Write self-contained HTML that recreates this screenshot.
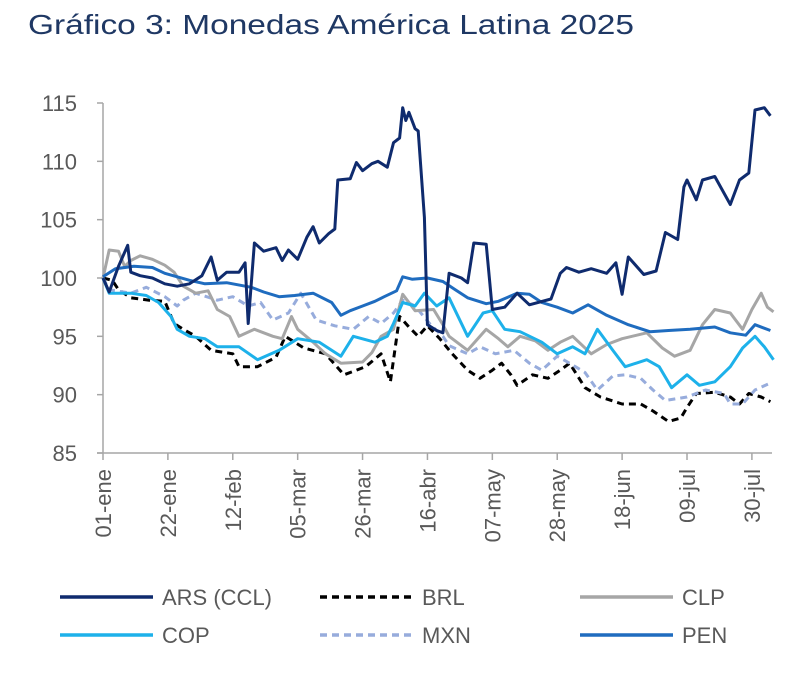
<!DOCTYPE html>
<html><head><meta charset="utf-8"><style>
body{margin:0;background:#fff;width:800px;height:672px;overflow:hidden;font-family:"Liberation Sans","DejaVu Sans",sans-serif}
svg text{font-family:"Liberation Sans","DejaVu Sans",sans-serif}
</style></head><body>
<svg id="chart" width="800" height="672">
<text x="28" y="34" font-size="28" fill="#1f3864" textLength="606" lengthAdjust="spacingAndGlyphs">Gráfico 3: Monedas América Latina 2025</text>
<g id="axes"></g><g id="series"></g><g id="legend"></g>
</svg>
<script>
const yTicks=[85,90,95,100,105,110,115];
const xTickDays=[0,21,42,63,84,105,126,147,168,189,210];
const xTickLabels=["01-ene","22-ene","12-feb","05-mar","26-mar","16-abr","07-may","28-may","18-jun","09-jul","30-jul"];
const seriesNames=["ARS (CCL)","BRL","CLP","COP","MXN","PEN"];
const arsDays=[0,2,5,8,9,12,16,20,24,28,32,35,37,40,44,46,47,49,52,56,58,60,63,66,68,70,73,75,76,80,82,84,87,89,92,94,96,97,98,99,101,102,104,105,108,110,112,116,118,120,124,126,130,134,138,145,148,150,154,158,163,166,168,170,175,179,182,186,188,189,192,194,198,203,206,209,211,214,216];
const arsVals=[100,98.8,101,102.8,100.5,100.2,100,99.5,99.3,99.5,100.2,101.8,99.8,100.5,100.5,101.3,96.1,103,102.3,102.6,101.5,102.4,101.6,103.5,104.4,103,103.8,104.2,108.4,108.5,109.9,109.2,109.8,110,109.5,111.6,112,114.6,113.5,114.2,112.8,112.6,105.2,96,95.5,95.3,100.4,100,99.6,103,102.9,97.3,97.5,98.7,97.7,98.2,100.4,100.9,100.5,100.8,100.4,101.3,98.6,101.8,100.3,100.6,103.9,103.3,107.8,108.4,106.7,108.4,108.7,106.3,108.4,109,114.4,114.6,113.9];
const brlDays=[0,3,5,9,15,20,23,26,30,35,42,44,50,56,59,65,72,78,85,90,93,96,99,102,105,109,113,118,122,126,129,132,134,139,144,148,151,156,161,168,174,178,183,187,189,192,198,203,206,209,213,216];
const brlVals=[100,99.8,99,98.3,98.1,98,96.1,95.6,95,93.8,93.5,92.4,92.4,93.2,95,94,93.5,91.7,92.4,93.5,91.1,96.7,95.8,95,95.9,94.8,93.5,92.1,91.4,92.1,92.7,91.7,90.8,91.7,91.4,92.1,92.7,90.6,89.8,89.2,89.2,88.6,87.7,88,88.9,90.1,90.2,89.8,89.2,90.1,89.8,89.4];
const clpDays=[0,2,5,7,9,12,16,20,23,26,30,34,37,41,44,49,55,58,61,63,68,72,77,84,87,90,94,97,101,107,110,112,118,124,128,131,135,140,144,148,152,158,163,168,176,181,185,190,194,198,203,207,210,213,215,217];
const clpVals=[100,102.4,102.3,101,101.5,101.9,101.6,101.1,100.5,99.3,98.7,98.9,97.3,96.7,95,95.6,95,94.8,96.7,95.6,94.5,93.5,92.7,92.8,93.6,95,95.6,98.6,97.2,97.3,96,95,93.8,95.6,94.8,94.1,95,94.6,93.8,94.5,95,93.5,94.3,94.8,95.3,94,93.3,93.8,96,97.3,97,95.6,97.3,98.7,97.5,97.1];
const copDays=[0,2,9,14,18,22,24,28,33,37,44,50,57,63,70,77,81,88,92,94,97,101,104,108,112,118,123,126,130,135,142,147,152,156,160,165,169,176,180,184,189,193,198,203,207,211,214,217];
const copVals=[100,98.7,98.7,98.5,97.9,96.7,95.6,95,94.8,94.1,94.1,93,93.8,94.8,94.5,93.3,95,94.5,95,96.1,97.9,97.6,98.7,97.6,98.3,95,97,97.2,95.6,95.4,94.5,93.5,94.1,93.5,95.6,93.8,92.4,93,92.4,90.6,91.7,90.8,91.1,92.4,94,95,94.1,93];
const mxnDays=[0,2,9,14,20,24,26,30,37,42,47,51,55,60,64,69,75,81,86,90,94,97,101,106,110,112,118,122,127,133,138,142,147,151,156,160,165,169,174,178,182,189,195,201,203,207,211,216];
const mxnVals=[100,99,98.7,99.2,98.4,97.6,98.1,98.7,98.1,98.4,97.6,97.9,96.4,97,98.7,96.4,95.9,95.6,96.7,96.1,97,98.1,97.6,96,95,94.2,93.5,94.1,93.5,93.8,92.7,92.1,93.3,92.7,91.9,90.4,91.6,91.7,91.4,90.4,89.5,89.8,90.4,90.1,89.2,89.2,90.4,91];
const penDays=[0,4,10,16,20,24,28,33,40,48,52,57,62,68,74,77,80,84,88,91,95,97,100,105,110,114,118,124,128,134,138,142,147,152,157,163,170,177,183,190,198,203,208,211,216];
const penVals=[100.1,100.8,101,100.9,100.4,100.1,99.8,99.5,99.6,99.2,98.8,98.4,98.5,98.7,97.9,96.8,97.2,97.6,98,98.4,98.9,100.1,99.9,100,99.7,99,98.3,97.8,98,98.7,98.6,97.9,97.5,97,97.7,96.8,96,95.4,95.5,95.6,95.8,95.3,95.1,96,95.5];

const NS="http://www.w3.org/2000/svg";
const X0=103,X1=772,Y0=453,Y1=103;
const xS=d=>X0+d*3.09;
const yS=v=>Y0-(v-85)/30*(Y0-Y1);
function mk(tag,attrs,parent){const e=document.createElementNS(NS,tag);for(const k in attrs)e.setAttribute(k,attrs[k]);parent.appendChild(e);return e;}
const axes=document.getElementById('axes');
let yl=mk('line',{x1:X0,y1:Y1,x2:X0,y2:Y0,stroke:'#a6a6a6','stroke-width':1.5},axes);


let xl=mk('line',{x1:X0-6,y1:Y0,x2:X1,y2:Y0,stroke:'#a6a6a6','stroke-width':1.5},axes);


yTicks.forEach(v=>{
  const y=yS(v);
  mk('line',{x1:X0-6,y1:y,x2:X0,y2:y,stroke:'#a6a6a6','stroke-width':1.5},axes);
  const t=mk('text',{x:77,y:y+8,'text-anchor':'end','font-size':22,fill:'#595959'},axes);
  t.textContent=v;
  
  
});
xTickDays.forEach((d,i)=>{
  const x=xS(d);
  mk('line',{x1:x,y1:Y0,x2:x,y2:Y0+7,stroke:'#a6a6a6','stroke-width':1.5},axes);
  const t=mk('text',{x:0,y:0,'text-anchor':'end','font-size':22,fill:'#595959',transform:`translate(${x+8},469) rotate(-90)`},axes);
  t.textContent=xTickLabels[i];
  
  
});
const styles=[
 {c:'#0f2b6e',dash:null,days:arsDays,vals:arsVals,n:'series-ars'},
 {c:'#000000',dash:'7,5',days:brlDays,vals:brlVals,n:'series-brl'},
 {c:'#a6a6a6',dash:null,days:clpDays,vals:clpVals,n:'series-clp'},
 {c:'#1db1ea',dash:null,days:copDays,vals:copVals,n:'series-cop'},
 {c:'#97acdc',dash:'7,5',days:mxnDays,vals:mxnVals,n:'series-mxn'},
 {c:'#1f6cbf',dash:null,days:penDays,vals:penVals,n:'series-pen'}];
const drawOrder=[1,4,2,3,5,0];
const sg=document.getElementById('series');
drawOrder.forEach(i=>{
  const s=styles[i];
  const d=s.days.map((dd,j)=>(j?'L':'M')+xS(dd).toFixed(1)+','+yS(s.vals[j]).toFixed(1)).join('');
  const a={d:d,fill:'none',stroke:s.c,'stroke-width':3,'stroke-linejoin':'round'};
  if(s.dash)a['stroke-dasharray']=s.dash;
  const p=mk('path',a,sg);
  
  
});
const lg=document.getElementById('legend');
const cols=[60,320,580],rows=[597,635];
styles.forEach((s,i)=>{
  const x=cols[i%3],y=rows[Math.floor(i/3)];
  const g=mk('g',{},lg);
  
  
  const a={x1:x,y1:y,x2:x+93,y2:y,stroke:s.c,'stroke-width':3.5};
  if(s.dash)a['stroke-dasharray']=s.dash;
  mk('line',a,g);
  const t=mk('text',{x:x+102,y:y+8,'font-size':22,fill:'#595959'},g);
  t.textContent=seriesNames[i];
});
</script>
</body></html>
